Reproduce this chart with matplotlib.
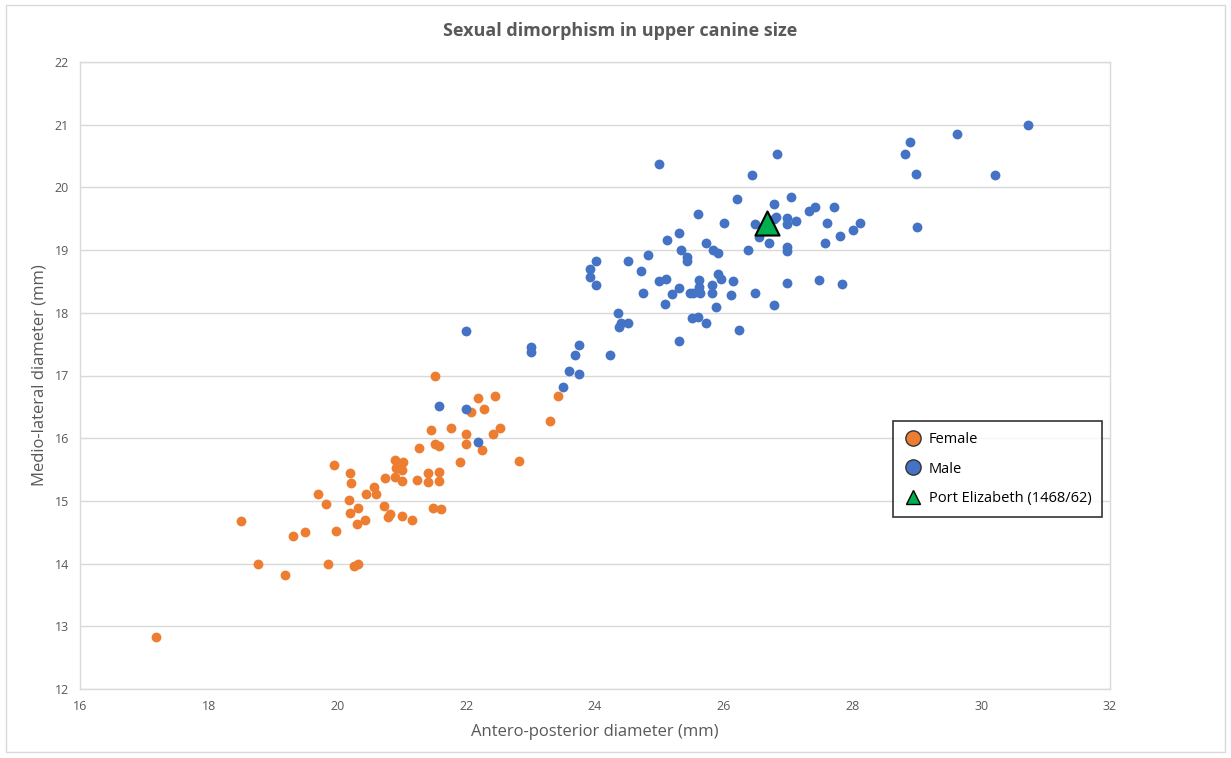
import matplotlib
matplotlib.use("Agg")
import matplotlib.pyplot as plt
from matplotlib.patches import Rectangle
from matplotlib.lines import Line2D

female_x = [17.18, 18.50, 18.77, 19.18, 19.31, 19.49, 19.70, 19.82, 19.85, 19.94,
            19.98, 20.18, 20.20, 20.21, 20.20, 20.25, 20.32, 20.30, 20.32, 20.42,
            20.44, 20.57, 20.60, 20.72, 20.74, 20.78, 20.81, 20.90, 20.91, 20.90,
            21.02, 21.00, 21.00, 21.00, 21.16, 21.23, 21.26, 21.40, 21.40, 21.45,
            21.48, 21.52, 21.52, 21.58, 21.58, 21.58, 21.60, 21.77, 21.91, 22.00,
            22.00, 22.07, 22.18, 22.27, 22.24, 22.44, 22.42, 22.52, 22.82, 23.30,
            23.42]
female_y = [12.83, 14.68, 13.99, 13.82, 14.44, 14.50, 15.11, 14.95, 13.99, 15.58,
            14.52, 15.01, 15.44, 15.28, 14.80, 13.96, 14.00, 14.63, 14.89, 14.70,
            15.11, 15.22, 15.11, 14.92, 15.37, 14.74, 14.79, 15.65, 15.53, 15.38,
            15.62, 15.49, 15.32, 14.76, 14.70, 15.33, 15.84, 15.44, 15.30, 16.13,
            14.88, 17.00, 15.90, 15.88, 15.46, 15.32, 14.87, 16.17, 15.62, 16.07,
            15.91, 16.42, 16.64, 16.46, 15.81, 16.68, 16.07, 16.16, 15.64, 16.27,
            16.68]

male_x = [22.00, 21.58, 22.00, 22.18, 23.00, 23.00, 23.50, 23.60, 23.75, 23.69,
          23.75, 24.23, 24.35, 24.37, 24.41, 24.52, 23.92, 24.02, 23.93, 24.02,
          24.52, 24.71, 24.83, 24.74, 25.00, 25.10, 25.08, 25.19, 25.31, 25.47,
          25.52, 25.61, 25.63, 25.61, 25.50, 25.60, 25.73, 25.31, 25.00, 25.12,
          25.30, 25.34, 25.43, 25.43, 25.60, 25.73, 25.84, 25.91, 25.82, 25.82,
          25.91, 25.95, 25.88, 26.00, 26.12, 26.15, 26.20, 26.24, 26.38, 26.44,
          26.48, 26.48, 26.55, 26.70, 26.78, 26.81, 26.78, 26.82, 26.78, 26.99,
          26.99, 27.13, 27.04, 27.32, 27.41, 27.72, 27.60, 27.80, 28.00, 28.12,
          27.58, 26.99, 26.99, 26.99, 27.48, 27.84, 28.81, 28.90, 28.98, 29.00,
          29.62, 30.22, 30.72]
male_y = [17.71, 16.51, 16.46, 15.94, 17.45, 17.38, 16.82, 17.07, 17.03, 17.32,
          17.48, 17.32, 18.00, 17.77, 17.83, 17.83, 18.70, 18.82, 18.57, 18.44,
          18.82, 18.67, 18.92, 18.32, 18.51, 18.54, 18.14, 18.30, 18.40, 18.32,
          18.32, 18.41, 18.32, 18.52, 17.92, 17.94, 17.83, 17.55, 20.37, 19.16,
          19.28, 19.00, 18.89, 18.83, 19.58, 19.12, 19.00, 18.96, 18.44, 18.32,
          18.62, 18.54, 18.09, 19.44, 18.28, 18.50, 19.82, 17.73, 19.00, 20.20,
          19.42, 18.32, 19.21, 19.11, 19.74, 19.53, 19.50, 20.53, 18.12, 19.51,
          19.41, 19.47, 19.85, 19.63, 19.68, 19.69, 19.44, 19.22, 19.32, 19.44,
          19.12, 19.05, 18.98, 18.48, 18.52, 18.46, 20.53, 20.72, 20.22, 19.37,
          20.85, 20.20, 21.00]

pe_x = [26.67]
pe_y = [19.43]

x_ticks = [16, 18, 20, 22, 24, 26, 28, 30, 32]
y_ticks = [12, 13, 14, 15, 16, 17, 18, 19, 20, 21, 22]

plt.rcParams['font.family'] = ['Open Sans', 'DejaVu Sans']

fig = plt.figure(figsize=(12.31, 7.58), dpi=100)
fig.patches.append(Rectangle((6 / 1231, 1 - 752 / 758), 1219 / 1231, 747 / 758,
                             transform=fig.transFigure, fill=False,
                             edgecolor='#D9D9D9', linewidth=1.0))
ax = fig.add_axes([80 / 1231, 1 - 689 / 758, 1030 / 1231, 627 / 758])

ax.scatter(female_x, female_y, s=50, color='#ED7D31', label='Female', zorder=3,
           linewidths=0)
ax.scatter(male_x, male_y, s=50, color='#4472C4', label='Male', zorder=3,
           linewidths=0)
ax.scatter(pe_x, pe_y, s=300, marker='^', color='#00B050', edgecolors='black',
           linewidths=1.5, label='Port Elizabeth (1468/62)', zorder=4)

ax.set_xlim(16, 32)
ax.set_ylim(12, 22)
ax.set_xticks(x_ticks)
ax.set_yticks(y_ticks)
ax.tick_params(length=0, labelsize=9, colors='#595959', pad=8)
ax.grid(axis='y', color='#D9D9D9', linewidth=1.0, zorder=0)
ax.set_axisbelow(True)
for sp in ax.spines.values():
    sp.set_color('#D9D9D9')
    sp.set_linewidth(1.0)

ax.set_xlabel('Antero-posterior diameter (mm)', fontsize=12, color='#595959', labelpad=8)
ax.set_ylabel('Medio-lateral diameter (mm)', fontsize=12, color='#595959', labelpad=5)
fig.text(620 / 1231, 1 - 31 / 758, 'Sexual dimorphism in upper canine size',
         ha='center', va='center', fontsize=13, fontweight='bold', color='#595959')

handles, labels = ax.get_legend_handles_labels()
h = [Line2D([], [], marker='o', linestyle='none', markersize=11, markerfacecolor='#ED7D31',
            markeredgecolor='#333333', markeredgewidth=1.0),
     Line2D([], [], marker='o', linestyle='none', markersize=11, markerfacecolor='#4472C4',
            markeredgecolor='#333333', markeredgewidth=1.0),
     Line2D([], [], marker='^', linestyle='none', markersize=10, markerfacecolor='#00B050',
            markeredgecolor='black', markeredgewidth=1.0)]
leg = fig.legend(h, labels, loc='upper left',
                 bbox_to_anchor=(893 / 1231, 1 - 421 / 758), borderaxespad=0,
                 frameon=True, fancybox=False, fontsize=10.5, labelspacing=1.0,
                 handletextpad=0.5, borderpad=0.75, handlelength=1.2)
leg.get_frame().set_edgecolor('black')
leg.get_frame().set_linewidth(1.2)

fig.savefig('out.png', dpi=100)
